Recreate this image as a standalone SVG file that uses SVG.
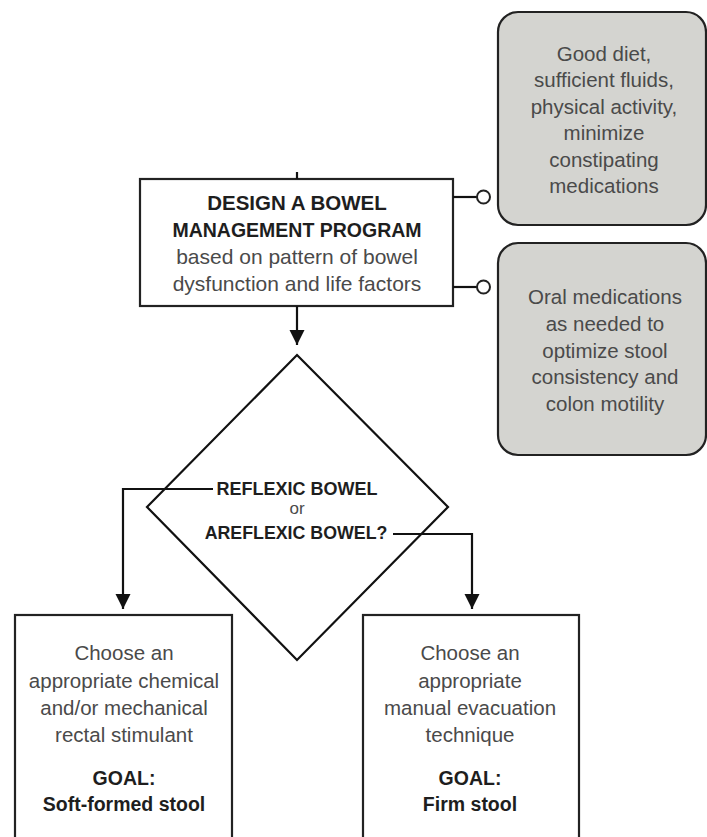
<svg xmlns="http://www.w3.org/2000/svg" width="707" height="837" viewBox="0 0 707 837">
<defs>
<marker id="arr" viewBox="0 0 10 10" refX="10" refY="5" markerWidth="15" markerHeight="17" markerUnits="userSpaceOnUse" orient="auto">
<path d="M0,0 L10,5 L0,10 Z" fill="#111"/>
</marker>
<style>
.box{fill:#fff;stroke:#222;stroke-width:2.2}
.gbox{fill:#d4d4d0;stroke:#222;stroke-width:2.2}
.ln{fill:none;stroke:#111;stroke-width:2.2}
.b{font-family:"Liberation Sans",Arial,sans-serif;font-weight:bold;fill:#1e1e1e;text-anchor:middle}
.r{font-family:"Liberation Sans",Arial,sans-serif;fill:#4a4a4a;text-anchor:middle}
</style>
</defs>
<rect width="707" height="837" fill="#fff"/>

<g id="design">
<rect class="box" x="140" y="179" width="313" height="127"/>
<text class="b" x="297" y="210" font-size="20.5">DESIGN A BOWEL</text>
<text class="b" x="297" y="237" font-size="19.5">MANAGEMENT PROGRAM</text>
<text class="r" x="297" y="264" font-size="21">based on pattern of bowel</text>
<text class="r" x="297" y="291" font-size="21">dysfunction and life factors</text>
</g>

<g id="lifestyle">
<rect class="gbox" x="498" y="12" width="208" height="213" rx="20"/>
<text class="r" x="604" y="61" font-size="20.5">Good diet,</text>
<text class="r" x="604" y="87" font-size="20.5">sufficient fluids,</text>
<text class="r" x="604" y="114" font-size="20.5">physical activity,</text>
<text class="r" x="604" y="140" font-size="20.5">minimize</text>
<text class="r" x="604" y="167" font-size="20.5">constipating</text>
<text class="r" x="604" y="193" font-size="20.5">medications</text>
</g>

<g id="oralmeds">
<rect class="gbox" x="498" y="243" width="208" height="212" rx="20"/>
<text class="r" x="605" y="304" font-size="20.5">Oral medications</text>
<text class="r" x="605" y="331" font-size="20.5">as needed to</text>
<text class="r" x="605" y="358" font-size="20.5">optimize stool</text>
<text class="r" x="605" y="384" font-size="20.5">consistency and</text>
<text class="r" x="605" y="411" font-size="20.5">colon motility</text>
</g>

<g id="decision">
<polygon points="297,355 448,507 297,660 147,507" fill="#fff" stroke="#111" stroke-width="2.2"/>
<text class="b" x="297" y="495" font-size="18">REFLEXIC BOWEL</text>
<text class="r" x="297" y="514" font-size="17">or</text>
<text class="b" x="296" y="539" font-size="17.8">AREFLEXIC BOWEL?</text>
</g>

<g id="reflexic">
<rect class="box" x="15" y="615" width="217" height="240"/>
<text class="r" x="124" y="660" font-size="20.5">Choose an</text>
<text class="r" x="124" y="688" font-size="20.5">appropriate chemical</text>
<text class="r" x="124" y="715" font-size="20.5">and/or mechanical</text>
<text class="r" x="124" y="742" font-size="20.5">rectal stimulant</text>
<text class="b" x="124" y="785" font-size="19.5">GOAL:</text>
<text class="b" x="124" y="811" font-size="19.5">Soft-formed stool</text>
</g>

<g id="areflexic">
<rect class="box" x="363" y="615" width="216" height="240"/>
<text class="r" x="470" y="660" font-size="20.5">Choose an</text>
<text class="r" x="470" y="688" font-size="20.5">appropriate</text>
<text class="r" x="470" y="715" font-size="20.5">manual evacuation</text>
<text class="r" x="470" y="742" font-size="20.5">technique</text>
<text class="b" x="470" y="785" font-size="19.5">GOAL:</text>
<text class="b" x="470" y="811" font-size="19.5">Firm stool</text>
</g>

<g id="connectors">
<line class="ln" x1="297" y1="172" x2="297" y2="179"/>
<line class="ln" x1="297" y1="306" x2="297" y2="345" marker-end="url(#arr)"/>
<polyline class="ln" points="213,489 123,489 123,609" marker-end="url(#arr)"/>
<polyline class="ln" points="393,534 472,534 472,609" marker-end="url(#arr)"/>
<line class="ln" x1="453" y1="197" x2="477" y2="197"/>
<circle cx="483.5" cy="197" r="6.5" fill="#fff" stroke="#222" stroke-width="2"/>
<line class="ln" x1="453" y1="287" x2="477" y2="287"/>
<circle cx="483.5" cy="287" r="6.5" fill="#fff" stroke="#222" stroke-width="2"/>
</g>
</svg>
